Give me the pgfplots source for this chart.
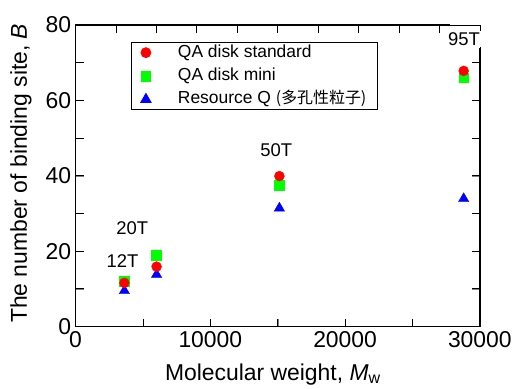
\documentclass[border=0pt]{standalone}
\usepackage{pgfplots}
\pgfplotsset{compat=1.18}
\usepackage{fontspec}
\setmainfont{Liberation Sans}
\newfontfamily\cjk{Noto Sans CJK JP}
\definecolor{mred}{RGB}{255,0,0}
\definecolor{mgreen}{RGB}{0,255,0}
\definecolor{mblue}{RGB}{0,0,255}
\begin{document}
\begin{tikzpicture}
\begin{axis}[
 scale only axis, width=406bp, height=303bp,
 xmin=0, xmax=30000, ymin=0, ymax=80,
 clip=false,
 unbounded coords=jump,
 tick align=inside, major tick length=8bp, minor tick length=8bp,
 xtick={0,10000,20000,30000}, minor xtick={5000,15000,25000}, xtick pos=left,
 ytick={0,20,40,60,80}, minor ytick={10,30,50,70}, ytick pos=both, yticklabel pos=left,
 scaled ticks=false,
 ticklabel style={font=\fontsize{23bp}{27bp}\selectfont, /pgf/number format/assume math mode=true, /pgf/number format/1000 sep={}},
 xticklabel style={yshift=-1bp},
 yticklabel style={xshift=-1bp},
 xlabel={Molecular weight, \textit{M}\textsubscript{w}},
 ylabel={The number of binding site, \textit{B}},
 xlabel style={at={(rel axis cs:0.488,-0.158)}, anchor=center, font=\fontsize{23bp}{27bp}\selectfont},
 ylabel style={at={(rel axis cs:-0.135,0.508)}, anchor=center, font=\fontsize{23bp}{27bp}\selectfont},
 legend style={at={(rel axis cs:0.138,0.944)}, anchor=north west, draw=black, line width=0.8pt,
   font=\fontsize{17.5bp}{20bp}\selectfont, inner xsep=9bp, inner ysep=0bp, row sep=2.5bp,
   nodes={inner ysep=2bp, text height=13bp, text depth=4bp},
   /tikz/every odd column/.append style={column sep=25bp}},
 legend cell align=left,
 reverse legend,
]
% frame (open at the top right corner where 95T sits) and inward ticks
\addplot[forget plot, black, line width=0.9pt, mark=none]
  coordinates {(27783,80) (0,80) (0,0) (30000,0) (30000,73.9)};
\addplot[forget plot, black, line width=0.9pt, mark=none]
  coordinates {(5000,0) (5000,2.11) (nan,nan) (10000,0) (10000,2.11) (nan,nan)
    (15000,0) (15000,2.11) (nan,nan) (20000,0) (20000,2.11) (nan,nan) (25000,0) (25000,2.11) (nan,nan)
    (3000,80) (3000,77.89) (nan,nan) (6000,80) (6000,77.89) (nan,nan) (9000,80) (9000,77.89) (nan,nan)
    (12000,80) (12000,77.89) (nan,nan) (15000,80) (15000,77.89) (nan,nan) (18000,80) (18000,77.89) (nan,nan)
    (21000,80) (21000,77.89) (nan,nan) (24000,80) (24000,77.89) (nan,nan) (27000,80) (27000,77.89) (nan,nan)
    (0,10) (591,10) (nan,nan) (0,20) (591,20) (nan,nan) (0,30) (591,30) (nan,nan) (0,40) (591,40) (nan,nan)
    (0,50) (591,50) (nan,nan) (0,60) (591,60) (nan,nan) (0,70) (591,70) (nan,nan)
    (30000,10) (29409,10) (nan,nan) (30000,20) (29409,20) (nan,nan) (30000,30) (29409,30) (nan,nan)
    (30000,40) (29409,40) (nan,nan) (30000,50) (29409,50) (nan,nan) (30000,60) (29409,60) (nan,nan)
    (30000,70) (29409,70)};
\addplot[only marks, mark=triangle*, mark size=6bp, color=mblue, mark options={draw=mblue, fill=mblue}]
  coordinates {(3620,9.5) (6010,13.8) (15125,31.4) (28800,33.9)};
\addlegendentry{Resource Q\hspace{5bp}{\cjk\fontsize{16bp}{18bp}\selectfont (多孔性粒子)}}
\addplot[only marks, mark=square*, mark size=5bp, color=mgreen, mark options={draw=mgreen, fill=mgreen}]
  coordinates {(3620,12.1) (6010,19.0) (15125,37.6) (28800,66.0)};
\addlegendentry{QA disk mini}
\addplot[only marks, mark=*, mark size=5bp, color=mred, mark options={draw=mred, fill=mred}]
  coordinates {(3620,11.6) (6010,15.9) (15125,39.9) (28800,67.8)};
\addlegendentry{QA disk standard}
\node[font=\fontsize{18.5bp}{20bp}\selectfont] at (axis cs:3473,17.3) {12T};
\node[font=\fontsize{18.5bp}{20bp}\selectfont] at (axis cs:4212,26.1) {20T};
\node[font=\fontsize{18.5bp}{20bp}\selectfont] at (axis cs:14889,46.7) {50T};
\node[font=\fontsize{18.5bp}{20bp}\selectfont, fill=white, inner sep=1.5bp] at (axis cs:28818,76.2) {95T};
\path (rel axis cs:-0.187,-0.188) rectangle (rel axis cs:1.081,1.0825);
\end{axis}
\end{tikzpicture}
\end{document}
